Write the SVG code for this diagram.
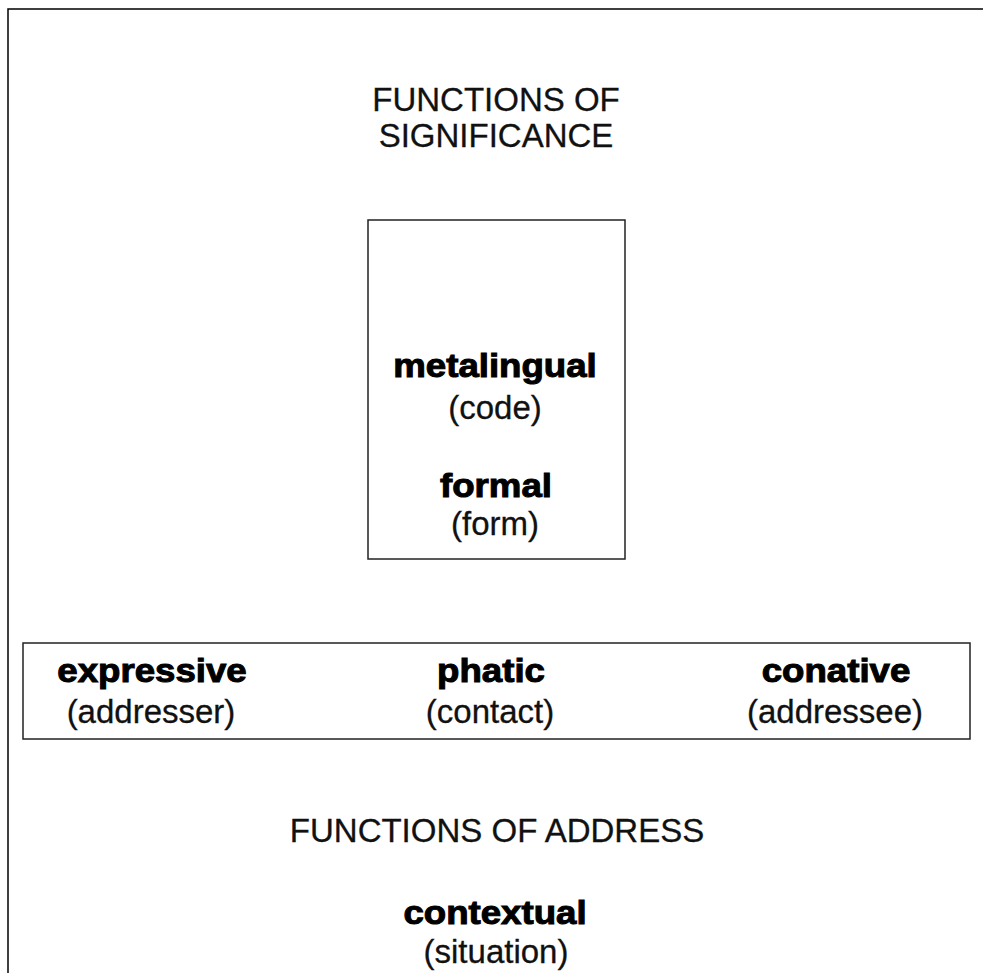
<svg xmlns="http://www.w3.org/2000/svg" width="983" height="973" viewBox="0 0 983 973">
<style>
.reg{font-family:"Liberation Sans",Arial,Helvetica,sans-serif;font-size:33px;fill:#111;stroke:#111;stroke-width:0.3;text-anchor:middle}
.bold{font-family:"Liberation Sans",Arial,Helvetica,sans-serif;font-size:33px;font-weight:bold;fill:#000;stroke:#000;stroke-width:1;text-anchor:middle}
.box{fill:none;stroke:#222;stroke-width:1.5}
.frame{fill:none;stroke:#000;stroke-width:1.5}
</style>
<rect width="983" height="973" fill="#fff"/>
<g id="frame"><path class="frame" d="M983,9 H8 V973"/></g>
<g id="significance-title">
<text class="reg" x="496" y="111">FUNCTIONS OF</text>
<text class="reg" x="496" y="147">SIGNIFICANCE</text>
</g>
<g id="significance-box">
<rect class="box" x="368" y="220" width="257" height="339"/>
<text class="bold" transform="translate(495,377) scale(1.11,1)">metalingual</text>
<text class="reg" x="495" y="419">(code)</text>
<text class="bold" transform="translate(496,497) scale(1.11,1)">formal</text>
<text class="reg" x="495" y="535">(form)</text>
</g>
<g id="address-box">
<rect class="box" x="23" y="643" width="947" height="96"/>
<g id="expressive">
<text class="bold" transform="translate(152,682) scale(1.11,1)">expressive</text>
<text class="reg" x="151" y="723">(addresser)</text>
</g>
<g id="phatic">
<text class="bold" transform="translate(491,682) scale(1.11,1)">phatic</text>
<text class="reg" x="490" y="723">(contact)</text>
</g>
<g id="conative">
<text class="bold" transform="translate(836,682) scale(1.11,1)">conative</text>
<text class="reg" x="835" y="723">(addressee)</text>
</g>
</g>
<g id="address-title">
<text class="reg" x="497" y="842">FUNCTIONS OF ADDRESS</text>
</g>
<g id="contextual">
<text class="bold" transform="translate(495,924) scale(1.11,1)">contextual</text>
<text class="reg" x="496" y="963">(situation)</text>
</g>
<g id="connectors"></g>
</svg>
